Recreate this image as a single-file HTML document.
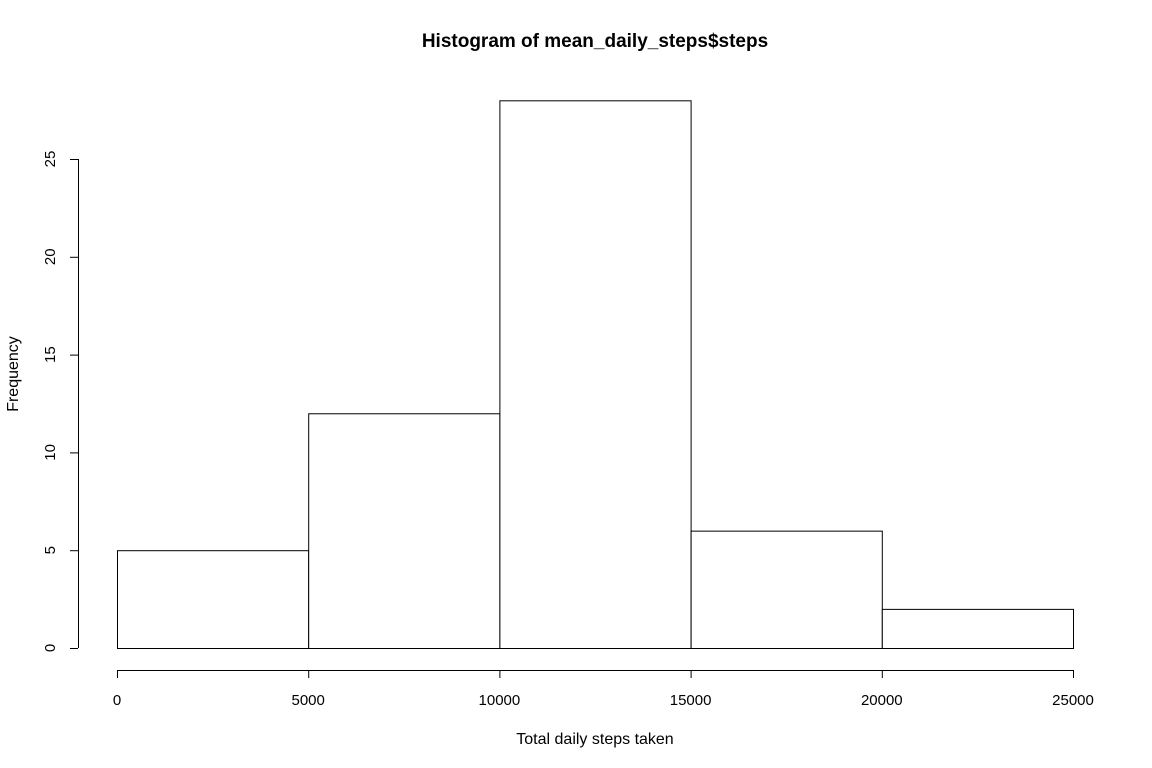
<!DOCTYPE html>
<html><head><meta charset="utf-8"><style>html,body{margin:0;padding:0;background:#fff}svg{display:block;font-family:"Liberation Sans",Arial,sans-serif}</style></head>
<body>
<svg id="chart" width="1152" height="768" viewBox="0 0 1152 768">
<text x="595" y="47" text-anchor="middle" font-size="19" font-weight="bold">Histogram of mean_daily_steps$steps</text>
<text x="595" y="744" text-anchor="middle" font-size="16">Total daily steps taken</text>
<text x="18" y="374" text-anchor="middle" font-size="16" transform="rotate(-90 18 374)">Frequency</text>
<g id="bars"></g><g id="xaxis"></g><g id="yaxis"></g>
</svg>
<script>
const binEdges=[0,5000,10000,15000,20000,25000];
const counts=[5,12,28,6,2];
const xTicks=[0,5000,10000,15000,20000,25000];
const yTicks=[0,5,10,15,20,25];
const NS="http://www.w3.org/2000/svg";
const x=v=>117+v*(956/25000);
const y=v=>648-v*(489/25);
function mk(t,a,p){const e=document.createElementNS(NS,t);for(const k in a)e.setAttribute(k,a[k]);p.appendChild(e);return e;}
const bars=document.getElementById('bars');
counts.forEach((c,i)=>{const r=mk('rect',{x:x(binEdges[i])+0.5,y:y(c)+0.5,width:x(binEdges[i+1])-x(binEdges[i]),height:y(0)-y(c),fill:'#fff',stroke:'#000','stroke-width':1},bars);

});
const xa=document.getElementById('xaxis');
const xl=mk('line',{x1:x(xTicks[0]),x2:x(xTicks[xTicks.length-1]),y1:670.5,y2:670.5,stroke:'#000'},xa);


xTicks.forEach(t=>{const l=mk('line',{x1:x(t)+0.5,x2:x(t)+0.5,y1:670,y2:678,stroke:'#000'},xa);


const tx=mk('text',{x:x(t),y:705,'text-anchor':'middle','font-size':15},xa);tx.textContent=t;

});
const ya=document.getElementById('yaxis');
const yl=mk('line',{x1:78.5,x2:78.5,y1:y(yTicks[0]),y2:y(yTicks[yTicks.length-1]),stroke:'#000'},ya);


yTicks.forEach(t=>{const l=mk('line',{x1:70,x2:78,y1:y(t)+0.5,y2:y(t)+0.5,stroke:'#000'},ya);


const tx=mk('text',{x:55,y:y(t),'text-anchor':'middle','font-size':15,transform:`rotate(-90 55 ${y(t)})`},ya);tx.textContent=t;

});
</script>
</body></html>
